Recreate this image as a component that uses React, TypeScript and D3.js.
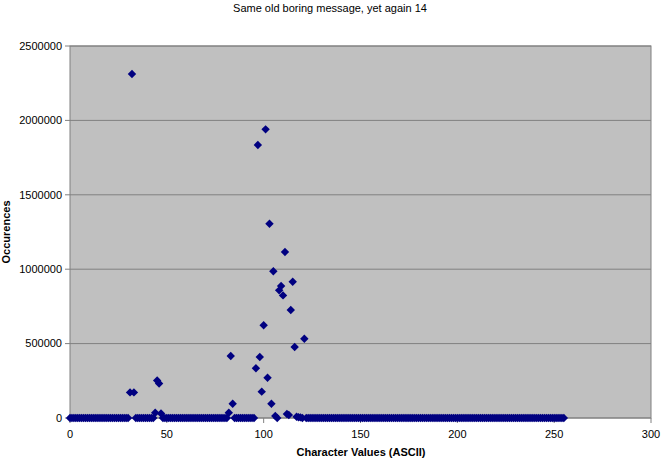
import React from "react";
import * as d3 from "d3";

const TITLE = "Same old boring message, yet again 14";
const X_LABEL = "Character Values (ASCII)";
const Y_LABEL = "Occurences";
const X_TICKS = [0, 50, 100, 150, 200, 250, 300];
const Y_TICKS = [0, 500000, 1000000, 1500000, 2000000, 2500000];

// character codes with a non-zero count (all others 0..255 are 0)
const CODES = [31, 32, 33, 44, 45, 46, 47, 82, 83, 84, 96, 97, 98, 99, 100, 101, 102, 103, 104, 105, 106, 108, 109, 110, 111, 112, 113, 114, 115, 116, 117, 118, 119, 121];
const COUNTS = [172000, 2312000, 172000, 35000, 252000, 232000, 30000, 35000, 417000, 96000, 334000, 1835000, 410000, 177000, 623000, 1940000, 271000, 1305000, 96000, 986000, 14000, 858000, 887000, 824000, 1116000, 27000, 20000, 726000, 916000, 477000, 8000, 5000, 4000, 533000];
const MAX_CODE = 255;

const W = 661;
const H = 461;
const FONT = "'Liberation Sans', Arial, sans-serif";

export default function App() {
  const x = d3.scaleLinear().domain([0, 300]).range([70, 651]);
  const y = d3.scaleLinear().domain([0, 2500000]).range([418, 46]);

  const lookup = new Map<number, number>();
  CODES.forEach((c, i) => lookup.set(c, COUNTS[i]));
  const data = d3.range(0, MAX_CODE + 1).map((c) => ({ c, v: lookup.get(c) ?? 0 }));

  const r = 4.2;
  const diamond = `M0,${-r}L${r},0L0,${r}L${-r},0Z`;

  const [x0, x1] = x.range();
  const [yb, yt] = y.range();

  return (
    <svg width={W} height={H} style={{ position: "absolute", left: 0, top: 0, background: "#fff" }} fontFamily={FONT}>
      <text x={330} y={12} textAnchor="middle" fontSize={11} fill="#000">{TITLE}</text>
      <rect x={x0} y={yt} width={x1 - x0} height={yb - yt} fill="#C0C0C0" />
      {Y_TICKS.map((t) => (
        <g key={"y" + t}>
          <line x1={x0} x2={x1} y1={y(t)} y2={y(t)} stroke="#808080" strokeWidth={1} />
          <line x1={x0 - 5} x2={x0} y1={y(t)} y2={y(t)} stroke="#808080" strokeWidth={1} />
          <text x={x0 - 8} y={y(t)} dy="0.35em" textAnchor="end" fontSize={11} fill="#000">{t}</text>
        </g>
      ))}
      {X_TICKS.map((t) => (
        <g key={"x" + t}>
          <line x1={x(t)} x2={x(t)} y1={yb} y2={yb + 5} stroke="#808080" strokeWidth={1} />
          <text x={x(t)} y={yb + 20} textAnchor="middle" fontSize={11} fill="#000">{t}</text>
        </g>
      ))}
      <rect x={x0} y={yt} width={x1 - x0} height={yb - yt} fill="none" stroke="#808080" strokeWidth={1} />
      {data.map((d) => (
        <path key={d.c} d={diamond} transform={`translate(${x(d.c)},${y(d.v)})`} fill="#000080" />
      ))}
      <text x={361} y={456} textAnchor="middle" fontSize={11} fontWeight="bold" fill="#000">{X_LABEL}</text>
      <text transform={`translate(10,232) rotate(-90)`} textAnchor="middle" fontSize={11} fontWeight="bold" fill="#000">{Y_LABEL}</text>
    </svg>
  );
}
